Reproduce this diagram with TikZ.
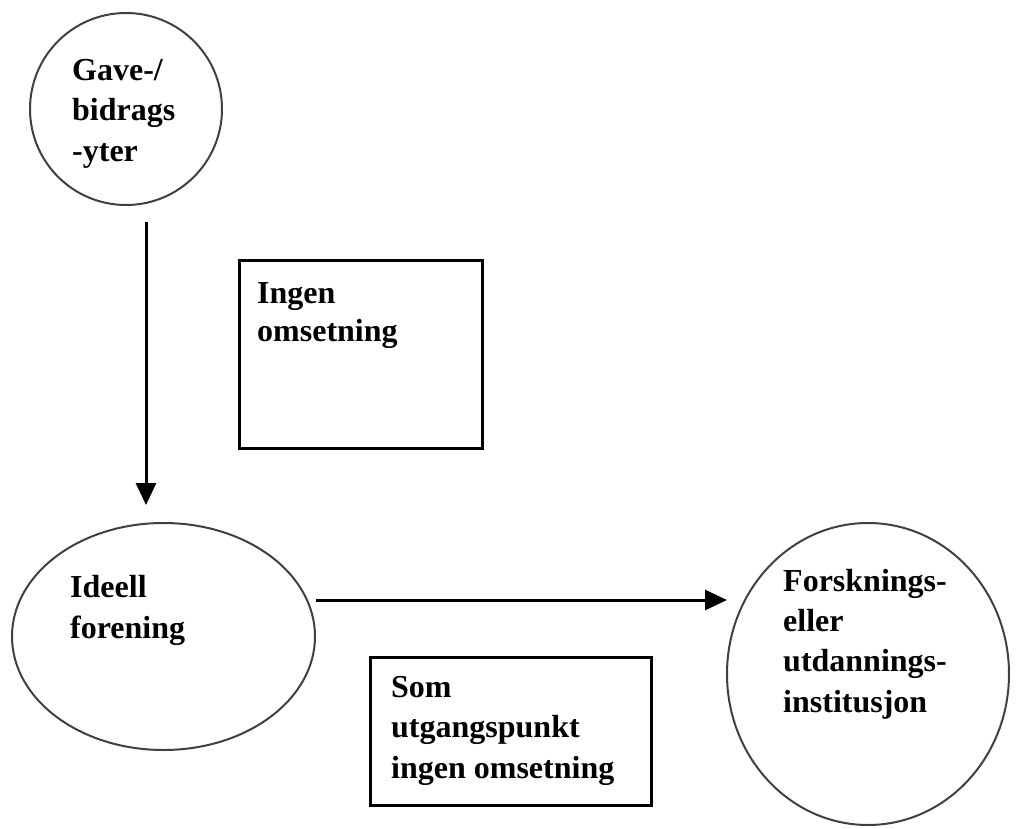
\documentclass[tikz,border=0pt]{standalone}
\usepackage{fontspec}
\setmainfont{Liberation Serif}
\usetikzlibrary{shapes.geometric,arrows.meta}
\begin{document}
\begin{tikzpicture}[x=1pt,y=-1pt,
  party/.style={ellipse,draw=black!75,line width=2pt,inner sep=0pt},
  notebox/.style={rectangle,draw=black,line width=3pt,inner sep=0pt},
  lbl/.style={anchor=base west,inner sep=0pt,font=\fontsize{32}{38}\selectfont\bfseries},
  flow/.style={line width=3pt,-{Triangle[length=22pt,width=20pt]}}]
\useasboundingbox (0,0) rectangle (1017,829);

% parties
\node[party,minimum width=192pt,minimum height=192pt] (donor) at (126,109) {};
\node[party,minimum width=303pt,minimum height=227pt] (assoc) at (163.5,636.5) {};
\node[party,minimum width=282pt,minimum height=302pt] (inst) at (868,674) {};

% remarks
\node[notebox,minimum width=242.5pt,minimum height=188pt] (note1) at (360.75,354) {};
\node[notebox,minimum width=281pt,minimum height=148pt] (note2) at (510.5,731) {};

% texts
\node[lbl] (tdonor1) at (72,81) {Gave-/};
\node[lbl] (tdonor2) at (72,121) {bidrags};
\node[lbl] (tdonor3) at (72,162) {-yter};
\node[lbl] (tassoc1) at (70,597) {Ideell};
\node[lbl] (tassoc2) at (70,638) {forening};
\node[lbl] (tinst1) at (783,591) {Forsknings-};
\node[lbl] (tinst2) at (783,631) {eller};
\node[lbl] (tinst3) at (783,671) {utdannings-};
\node[lbl] (tinst4) at (783,712) {institusjon};
\node[lbl] (tnote1a) at (257,303) {Ingen};
\node[lbl] (tnote1b) at (257,341) {omsetning};
\node[lbl] (tnote2a) at (391,697) {Som};
\node[lbl] (tnote2b) at (391,737) {utgangspunkt};
\node[lbl] (tnote2c) at (391,778) {ingen omsetning};

% money flows
\coordinate (gift0) at (146,222);
\coordinate (gift1) at (146,505);
\coordinate (pass0) at (316,600);
\coordinate (pass1) at (727,600);
\draw[flow] (gift0) -- (gift1);
\draw[flow] (pass0) -- (pass1);
\end{tikzpicture}
\end{document}
